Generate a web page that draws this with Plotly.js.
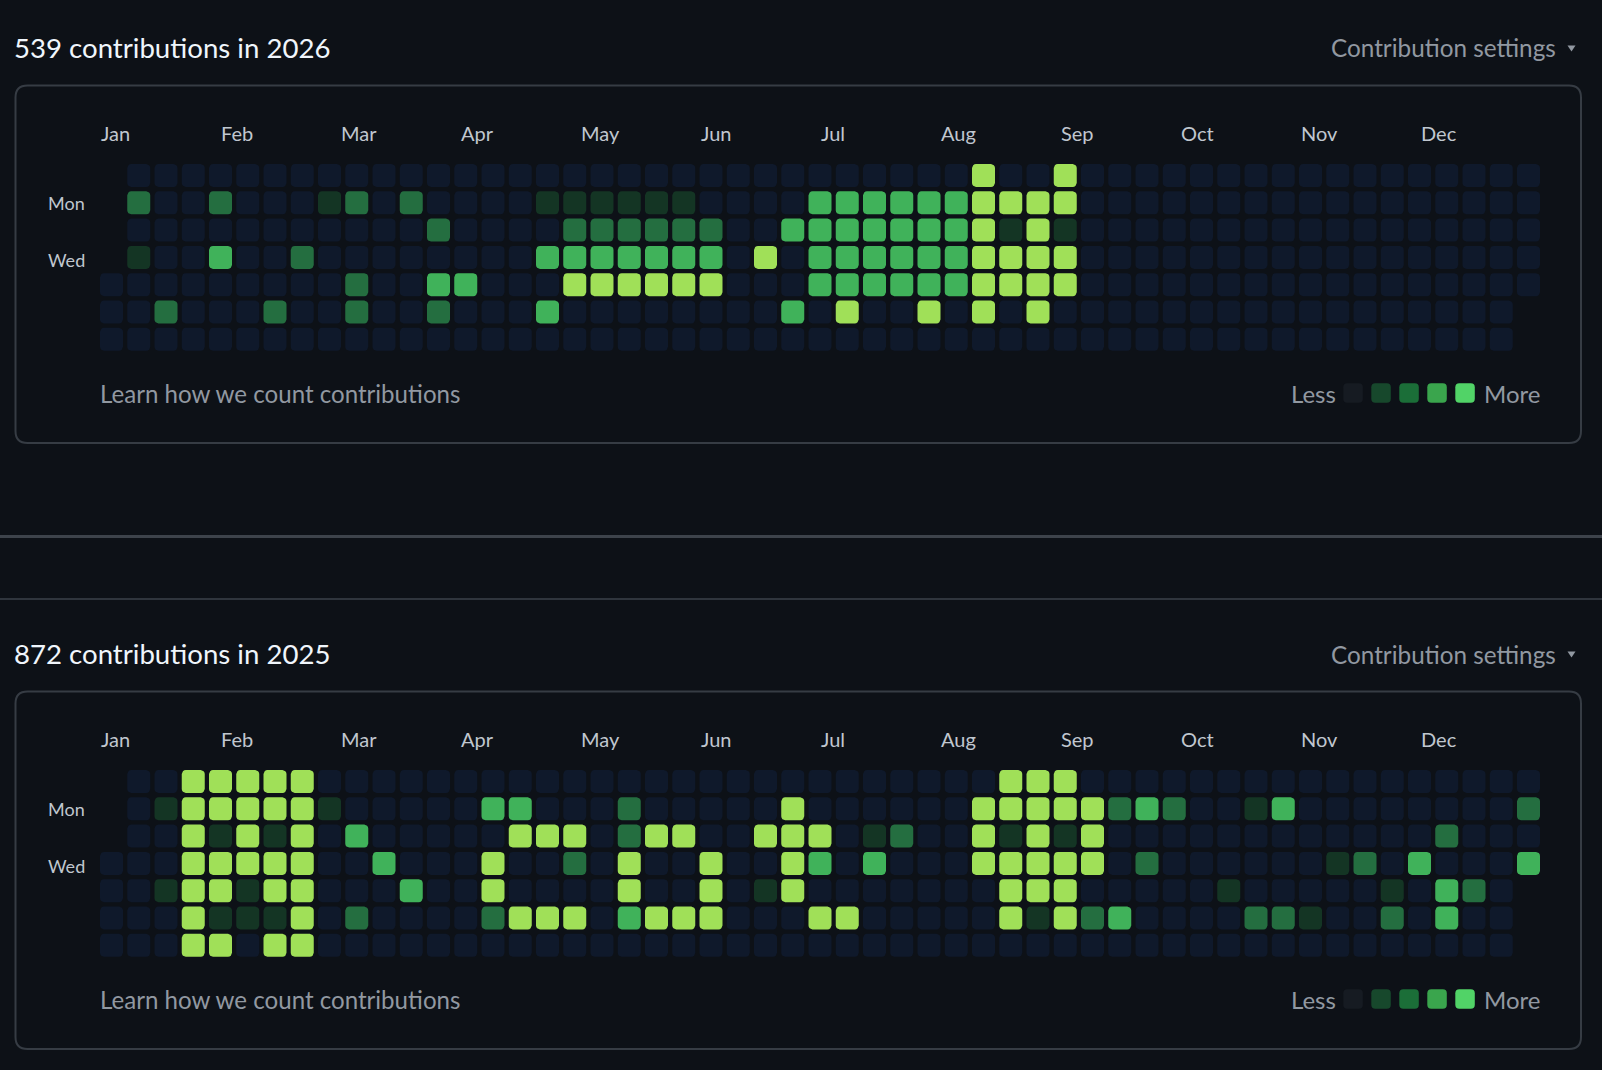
<!DOCTYPE html>
<html><head><meta charset="utf-8">
<script src="https://cdn.plot.ly/plotly-3.0.1.min.js"></script>
<style>html,body{margin:0;padding:0;background:#0d1117;overflow:hidden}</style>
</head><body><div id="chart" style="width:1602px;height:1070px"></div>
<script>
// ---------------- data ----------------
const years = ['2026', '2025'];
const totals = [539, 872];
const monthLabels = ['Jan','Feb','Mar','Apr','May','Jun','Jul','Aug','Sep','Oct','Nov','Dec'];
const weekdayLabels = ['', 'Mon', '', 'Wed', '', '', ''];
const legendLeft = 'Less', legendRight = 'More';
const learnText = 'Learn how we count contributions';
const settingsText = 'Contribution settings';

// contribution level (0-4) per weekday row, one entry per week column (null = outside the year)
const y2026_sun = [null,0,0,0,0,0,0,0,0,0, 0,0,0,0,0,0,0,0,0,0, 0,0,0,0,0,0,0,0,0,0, 0,0,4,0,0,4,0,0,0,0, 0,0,0,0,0,0,0,0,0,0, 0,0,0];
const y2026_mon = [null,2,0,0,2,0,0,0,1,2, 0,2,0,0,0,0,1,1,1,1, 1,1,0,0,0,0,3,3,3,3, 3,3,4,4,4,4,0,0,0,0, 0,0,0,0,0,0,0,0,0,0, 0,0,0];
const y2026_tue = [null,0,0,0,0,0,0,0,0,0, 0,0,2,0,0,0,0,2,2,2, 2,2,2,0,0,3,3,3,3,3, 3,3,4,1,4,1,0,0,0,0, 0,0,0,0,0,0,0,0,0,0, 0,0,0];
const y2026_wed = [null,1,0,0,3,0,0,2,0,0, 0,0,0,0,0,0,3,3,3,3, 3,3,3,0,4,0,3,3,3,3, 3,3,4,4,4,4,0,0,0,0, 0,0,0,0,0,0,0,0,0,0, 0,0,0];
const y2026_thu = [0,0,0,0,0,0,0,0,0,2, 0,0,3,3,0,0,0,4,4,4, 4,4,4,0,0,0,3,3,3,3, 3,3,4,4,4,4,0,0,0,0, 0,0,0,0,0,0,0,0,0,0, 0,0,0];
const y2026_fri = [0,0,2,0,0,0,2,0,0,2, 0,0,2,0,0,0,3,0,0,0, 0,0,0,0,0,3,0,4,0,0, 4,0,4,0,4,0,0,0,0,0, 0,0,0,0,0,0,0,0,0,0, 0,0,null];
const y2026_sat = [0,0,0,0,0,0,0,0,0,0, 0,0,0,0,0,0,0,0,0,0, 0,0,0,0,0,0,0,0,0,0, 0,0,0,0,0,0,0,0,0,0, 0,0,0,0,0,0,0,0,0,0, 0,0,null];

const y2025_sun = [null,0,0,4,4,4,4,4,0,0, 0,0,0,0,0,0,0,0,0,0, 0,0,0,0,0,0,0,0,0,0, 0,0,0,4,4,4,0,0,0,0, 0,0,0,0,0,0,0,0,0,0, 0,0,0];
const y2025_mon = [null,0,1,4,4,4,4,4,1,0, 0,0,0,0,3,3,0,0,0,2, 0,0,0,0,0,4,0,0,0,0, 0,0,4,4,4,4,4,2,3,2, 0,0,1,3,0,0,0,0,0,0, 0,0,2];
const y2025_tue = [null,0,0,4,1,4,1,4,0,3, 0,0,0,0,0,4,4,4,0,2, 4,4,0,0,4,4,4,0,1,2, 0,0,4,1,4,1,4,0,0,0, 0,0,0,0,0,0,0,0,0,2, 0,0,0];
const y2025_wed = [0,0,0,4,4,4,4,4,0,0, 3,0,0,0,4,0,0,2,0,4, 0,0,4,0,0,4,3,0,3,0, 0,0,4,4,4,4,4,0,2,0, 0,0,0,0,0,1,2,0,3,0, 0,0,3];
const y2025_thu = [0,0,1,4,4,1,4,4,0,0, 0,3,0,0,4,0,0,0,0,4, 0,0,4,0,1,4,0,0,0,0, 0,0,0,4,4,4,0,0,0,0, 0,1,0,0,0,0,0,1,0,3, 2,0,null];
const y2025_fri = [0,0,0,4,1,1,1,4,0,2, 0,0,0,0,2,4,4,4,0,3, 4,4,4,0,0,0,4,4,0,0, 0,0,0,4,1,4,2,3,0,0, 0,0,2,2,1,0,0,2,0,3, 0,0,null];
const y2025_sat = [0,0,0,4,4,0,4,4,0,0, 0,0,0,0,0,0,0,0,0,0, 0,0,0,0,0,0,0,0,0,0, 0,0,0,0,0,0,0,0,0,0, 0,0,0,0,0,0,0,0,0,0, 0,0,null];

const grid2026 = [y2026_sun, y2026_mon, y2026_tue, y2026_wed, y2026_thu, y2026_fri, y2026_sat];
const grid2025 = [y2025_sun, y2025_mon, y2025_tue, y2025_wed, y2025_thu, y2025_fri, y2025_sat];

// ---------------- style / geometry ----------------
const levelColors = ['#0f192b', '#143524', '#246e40', '#40b25a', '#a0e058'];
const legendColors = ['#161b22', '#17482c', '#1b6e38', '#3aa54d', '#51d367'];
const W = 1602, H = 1070;
const G = { colPitch: 27.25, rowPitch: 27.3, col0: 111.5, rowCenter0: [175.5, 781.5], cell: 23, radius: 4, dy: [0, 606],
            monthX0: 101, monthStep: 120 };
const FONT = 'Lato, "Open Sans", sans-serif';
const C_TITLE = '#f0f6fc', C_MUTED = '#9198a1', C_LABEL = '#c0c7cf', C_BORDER = '#363c44';
const X = px => px / W, Y = py => 1 - py / H;

function cellTraces(rows, yaxis) {
  const hx = G.cell / 2 / G.colPitch, hy = G.cell / 2 / G.rowPitch;
  const rx = G.radius / G.colPitch, ry = G.radius / G.rowPitch;
  const traces = levelColors.map(c => ({
    type: 'scatter', mode: 'lines', x: [], y: [], fill: 'toself', fillcolor: c,
    line: { width: 0, color: c }, hoverinfo: 'skip', showlegend: false, xaxis: 'x', yaxis: yaxis
  }));
  rows.forEach((row, d) => row.forEach((v, w) => {
    if (v === null || v === undefined) return;
    const t = traces[v];
    const corners = [
      [w + hx - rx, d - hy + ry, -90],
      [w + hx - rx, d + hy - ry, 0],
      [w - hx + rx, d + hy - ry, 90],
      [w - hx + rx, d - hy + ry, 180]
    ];
    let first = null;
    corners.forEach(([cx, cy, a0]) => {
      for (let k = 0; k <= 4; k++) {
        const a = (a0 + k * 22.5) * Math.PI / 180;
        const px = cx + rx * Math.cos(a), py = cy + ry * Math.sin(a);
        if (!first) first = [px, py];
        t.x.push(px); t.y.push(py);
      }
    });
    t.x.push(first[0], null); t.y.push(first[1], null);
  }));
  return traces;
}

function roundRect(x0, y0, x1, y1, r) {
  return `M ${X(x0 + r)},${Y(y0)} H ${X(x1 - r)} Q ${X(x1)},${Y(y0)} ${X(x1)},${Y(y0 + r)} ` +
    `V ${Y(y1 - r)} Q ${X(x1)},${Y(y1)} ${X(x1 - r)},${Y(y1)} H ${X(x0 + r)} ` +
    `Q ${X(x0)},${Y(y1)} ${X(x0)},${Y(y1 - r)} V ${Y(y0 + r)} Q ${X(x0)},${Y(y0)} ${X(x0 + r)},${Y(y0)} Z`;
}

const traces = [].concat(cellTraces(grid2026, 'y'), cellTraces(grid2025, 'y2'));
const annotations = [];
const shapes = [];

function txt(text, x, y, size, color, xanchor, extra) {
  return Object.assign({ text: text, x: x, y: y, xref: 'paper', yref: 'paper', xanchor: xanchor, yanchor: 'middle',
    showarrow: false, borderpad: 0, borderwidth: 0, font: { family: FONT, size: size, color: color } }, extra || {});
}

years.forEach((yr, i) => {
  const dy = G.dy[i];
  const yref = i === 0 ? 'y' : 'y2';
  annotations.push(txt(`${totals[i]} contributions in ${yr}`, X(14), Y(47.5 + dy), 27.6, C_TITLE, 'left'));
  annotations.push(txt(settingsText, X(1556), Y(48 + dy), 24.3, C_MUTED, 'right'));
  shapes.push({ type: 'path', xref: 'paper', yref: 'paper', path:
    `M ${X(1567.5)},${Y(45.5 + dy)} L ${X(1575.5)},${Y(45.5 + dy)} L ${X(1571.5)},${Y(51.5 + dy)} Z`,
    fillcolor: C_MUTED, line: { width: 0 } });
  shapes.push({ type: 'path', xref: 'paper', yref: 'paper', layer: 'below', path: roundRect(15.5, 85.5 + dy, 1581, 443 + dy, 12),
    fillcolor: 'rgba(0,0,0,0)', line: { color: C_BORDER, width: 2 } });
  monthLabels.forEach((m, k) => {
    annotations.push(txt(m, X(G.monthX0 + k * G.monthStep), Y(133 + dy), 20, C_LABEL, 'left'));
  });
  weekdayLabels.forEach((d, k) => {
    if (d) annotations.push(txt(d, X(48), k + (k === 3 ? 0.1 : 0), 18, C_LABEL, 'left', { yref: yref }));
  });
  annotations.push(txt(learnText, X(100), Y(393.5 + dy), 24.1, C_MUTED, 'left'));
  annotations.push(txt(legendLeft, X(1336), Y(393.5 + dy), 24, C_MUTED, 'right'));
  annotations.push(txt(legendRight, X(1484), Y(393.5 + dy), 24, C_MUTED, 'left'));
  legendColors.forEach((c, k) => {
    const x0 = 1343.3 + k * 28;
    shapes.push({ type: 'path', xref: 'paper', yref: 'paper', path: roundRect(x0, 383.3 + dy, x0 + 19.5, 402.8 + dy, 4),
      fillcolor: c, line: { width: 0 } });
  });
});

shapes.push({ type: 'line', xref: 'paper', yref: 'paper', x0: 0, x1: 1, y0: Y(536.4), y1: Y(536.4), line: { color: '#3d434b', width: 3 } });
shapes.push({ type: 'line', xref: 'paper', yref: 'paper', x0: 0, x1: 1, y0: Y(598.9), y1: Y(598.9), line: { color: '#2f353d', width: 2 } });

const layout = {
  width: W, height: H, margin: { l: 0, r: 0, t: 0, b: 0, pad: 0 },
  paper_bgcolor: '#0d1117', plot_bgcolor: 'rgba(0,0,0,0)', showlegend: false,
  xaxis: { domain: [0, 1], range: [-G.col0 / G.colPitch, (W - G.col0) / G.colPitch], visible: false, fixedrange: true },
  yaxis: { domain: [0, 1], range: [(H - G.rowCenter0[0]) / G.rowPitch, -G.rowCenter0[0] / G.rowPitch], visible: false, fixedrange: true },
  yaxis2: { overlaying: 'y', anchor: 'x', range: [(H - G.rowCenter0[1]) / G.rowPitch, -G.rowCenter0[1] / G.rowPitch], visible: false, fixedrange: true },
  annotations: annotations, shapes: shapes
};
Plotly.newPlot('chart', traces, layout, { staticPlot: true, displayModeBar: false });
</script></body></html>
